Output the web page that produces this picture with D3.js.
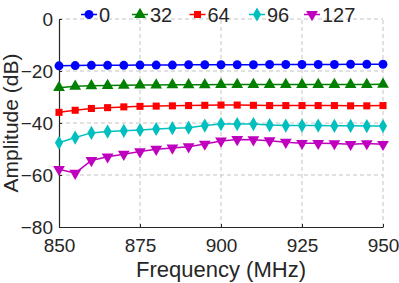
<!DOCTYPE html>
<html>
<head>
<meta charset="utf-8">
<script src="https://cdn.jsdelivr.net/npm/d3@7"></script>
<style>
  body { margin: 0; background: #fff; }
  svg text { font-family: "Liberation Sans", Arial, sans-serif; fill: #262626; }
</style>
</head>
<body>
<div id="chart"></div>
<script>
// Fréquences (MHz)
const freqs = [850, 855, 860, 865, 870, 875, 880, 885, 890, 895, 900,
               905, 910, 915, 920, 925, 930, 935, 940, 945, 950];
// Amplitudes (dB) par réglage
const s0   = [-18, -17.9, -17.8, -17.8, -17.8, -17.7, -17.7, -17.7, -17.6, -17.6, -17.6,
              -17.6, -17.6, -17.5, -17.5, -17.5, -17.5, -17.5, -17.4, -17.4, -17.4];
const s32  = [-26.4, -25.9, -25.7, -25.6, -25.5, -25.4, -25.4, -25.3, -25.3, -25.3, -25.2,
              -25.2, -25.2, -25.2, -25.2, -25.2, -25.2, -25.2, -25.2, -25.2, -25.1];
const s64  = [-35.9, -35.1, -34.4, -34.1, -33.8, -33.6, -33.5, -33.4, -33.3, -33.2, -33.1,
              -33.1, -33.2, -33.3, -33.3, -33.3, -33.3, -33.3, -33.4, -33.4, -33.3];
const s96  = [-47.6, -45.6, -43.8, -43.3, -43, -42.7, -42.3, -42, -41.8, -41.0, -40.4,
              -40.4, -40.4, -40.8, -41, -41, -41, -41.1, -41.1, -41.2, -41.2];
const s127 = [-57.8, -59.3, -54.4, -53, -52, -51, -50.1, -49.6, -49.1, -48.1, -46.9,
              -46.3, -46.4, -46.8, -47.4, -47.8, -47.8, -47.9, -48.2, -47.9, -48.2];
const seriesNames = ['0', '32', '64', '96', '127'];
const xTicks = [850, 875, 900, 925, 950];
const yTicks = [-80, -60, -40, -20, 0];

const series = [
  { name: seriesNames[0], values: s0,   color: '#0000ff', symbol: d3.symbolCircle,   size: 62 },
  { name: seriesNames[1], values: s32,  color: '#008000', symbol: d3.symbolTriangle, size: 60, flip: false },
  { name: seriesNames[2], values: s64,  color: '#ff0000', symbol: d3.symbolSquare,   size: 50 },
  { name: seriesNames[3], values: s96,  color: '#00bfbf', symbol: d3.symbolDiamond,  size: 58 },
  { name: seriesNames[4], values: s127, color: '#bf00bf', symbol: d3.symbolTriangle, size: 60, flip: true }
];

const width = 399, height = 283;
const margin = { top: 19, right: 16, bottom: 56, left: 59 };

const svg = d3.select('#chart').append('svg')
  .attr('width', width).attr('height', height);

const x = d3.scaleLinear().domain([850, 950]).range([margin.left, width - margin.right]);
const y = d3.scaleLinear().domain([-80, 0]).range([height - margin.bottom, margin.top]);

// Grille pointillée
const grid = svg.append('g');
grid.selectAll('.gx').data(xTicks.slice(1)).enter().append('line')
  .attr('x1', d => x(d)).attr('x2', d => x(d))
  .attr('y1', y(-80)).attr('y2', y(0))
  .attr('stroke', '#c4c4c4').attr('stroke-dasharray', '4,3');
grid.selectAll('.gy').data(yTicks.slice(1)).enter().append('line')
  .attr('x1', x(850)).attr('x2', x(950))
  .attr('y1', d => y(d)).attr('y2', d => y(d))
  .attr('stroke', '#c4c4c4').attr('stroke-dasharray', '4,3');

// Axes (ticks vers l'intérieur)
const xAxis = svg.append('g').attr('transform', `translate(0,${y(-80)})`)
  .call(d3.axisBottom(x).tickValues(xTicks).tickSizeInner(-3).tickSizeOuter(0));
const yAxis = svg.append('g').attr('transform', `translate(${x(850)},0)`)
  .call(d3.axisLeft(y).tickValues(yTicks).tickSizeInner(-3).tickSizeOuter(0).tickPadding(6));
[xAxis, yAxis].forEach(a => {
  a.select('.domain').attr('stroke', '#262626').attr('stroke-width', 1.2);
  a.selectAll('.tick line').attr('stroke', '#262626');
  a.selectAll('.tick text').attr('font-size', 19).attr('fill', '#262626')
    .style('font-family', '"Liberation Sans", Arial, sans-serif');
});
xAxis.selectAll('.tick text').attr('y', 25).attr('dy', 0);

// Titres d'axes
svg.append('text')
  .attr('x', (x(850) + x(950)) / 2).attr('y', 277)
  .attr('text-anchor', 'middle').attr('font-size', 22)
  .text('Frequency (MHz)');
svg.append('text')
  .attr('transform', `translate(17.5,${(y(0) + y(-80)) / 2}) rotate(-90)`)
  .attr('text-anchor', 'middle').attr('font-size', 21)
  .text('Amplitude (dB)');

// Séries
const line = d3.line().x((d, i) => x(freqs[i])).y(d => y(d));
series.forEach(s => {
  const g = svg.append('g');
  g.append('path').datum(s.values)
    .attr('d', line).attr('fill', 'none')
    .attr('stroke', s.color).attr('stroke-width', 1.5);
  const sym = d3.symbol().type(s.symbol).size(s.size);
  g.selectAll('path.m').data(s.values).enter().append('path')
    .attr('class', 'm')
    .attr('d', sym)
    .attr('transform', (d, i) => `translate(${x(freqs[i])},${y(d)})` + (s.flip ? ' rotate(180)' : ''))
    .attr('fill', s.color);
});

// Légende horizontale
const legendX = [89, 140, 197.5, 257, 312];
const legend = svg.append('g');
series.forEach((s, i) => {
  const lg = legend.append('g').attr('transform', `translate(${legendX[i]},14.5)`);
  lg.append('line').attr('x1', -8).attr('x2', 8).attr('stroke', s.color).attr('stroke-width', 1.5);
  lg.append('path').attr('d', d3.symbol().type(s.symbol).size(s.size)())
    .attr('transform', s.flip ? 'rotate(180)' : null)
    .attr('fill', s.color);
  lg.append('text').attr('x', 10).attr('y', 7).attr('font-size', 20).text(s.name);
});
</script>
</body>
</html>
